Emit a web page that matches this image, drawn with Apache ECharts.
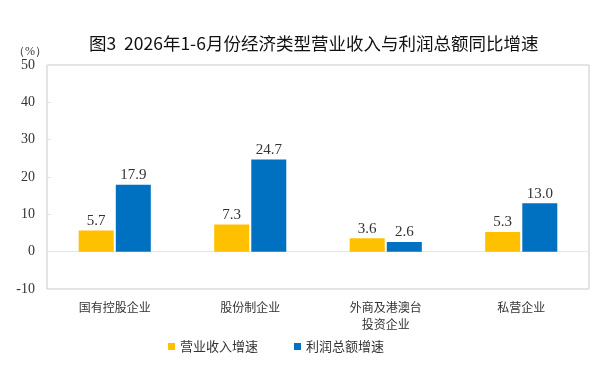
<!DOCTYPE html>
<html>
<head>
<meta charset="utf-8">
<script src="https://cdn.jsdelivr.net/npm/echarts@6/dist/echarts.min.js"></script>
<style>
  html, body { margin: 0; padding: 0; background: #fff; }
  #chart { width: 602px; height: 372px; }
</style>
</head>
<body>
<div id="chart"></div>
<script>
// categories and values
const categories = ['国有控股企业', '股份制企业', '外商及港澳台\n投资企业', '私营企业']
const revenueGrowth = [5.7, 7.3, 3.6, 5.3]
const profitGrowth = [17.9, 24.7, 2.6, 13.0]
const seriesNames = ['营业收入增速', '利润总额增速']

const serif = '"Liberation Serif", "DejaVu Serif", serif'
const cjk = '"Noto Sans CJK SC", sans-serif'

const chart = echarts.init(document.getElementById('chart'))

const barLabel = {
  show: true,
  position: 'top',
  distance: 2,
  fontFamily: serif,
  fontSize: 15,
  color: '#333',
  formatter: (p) => p.value.toFixed(1)
}

const option = {
  animation: false,
  title: {
    text: '图3  2026年1-6月份经济类型营业收入与利润总额同比增速',
    left: 84,
    top: 30,
    textStyle: {
      fontFamily: cjk,
      fontSize: 17.5,
      fontWeight: 'normal',
      color: '#111'
    }
  },
  legend: {
    bottom: 14,
    left: 163,
    icon: 'rect',
    itemWidth: 7,
    itemHeight: 7,
    itemGap: 36,
    textStyle: { fontFamily: cjk, fontSize: 13, color: '#333' },
    data: seriesNames
  },
  grid: {
    left: 47,
    right: 13,
    top: 65,
    bottom: 83,
    show: true,
    borderColor: '#c8c8c8',
    borderWidth: 1
  },
  xAxis: {
    type: 'category',
    data: categories,
    axisLine: { show: false },
    axisTick: { show: false },
    axisLabel: {
      margin: 10,
      fontFamily: cjk,
      fontSize: 12,
      lineHeight: 17,
      color: '#333'
    }
  },
  yAxis: {
    type: 'value',
    min: -10,
    max: 50,
    interval: 10,
    name: '（%）',
    nameLocation: 'end',
    nameGap: 4,
    nameTextStyle: {
      fontFamily: serif,
      fontSize: 12,
      color: '#333',
      align: 'right'
    },
    axisLine: { show: false },
    axisTick: {
      show: true,
      inside: true,
      length: 4,
      lineStyle: { color: '#e3e3e3' }
    },
    axisLabel: {
      margin: 12,
      fontFamily: serif,
      fontSize: 14,
      color: '#333'
    },
    splitLine: {
      show: true,
      lineStyle: {
        // only the zero line is drawn
        color: ['rgba(0,0,0,0)', '#e6e6e6', 'rgba(0,0,0,0)', 'rgba(0,0,0,0)',
          'rgba(0,0,0,0)', 'rgba(0,0,0,0)', 'rgba(0,0,0,0)'],
        width: 1
      }
    }
  },
  series: [
    {
      name: seriesNames[0],
      type: 'bar',
      data: revenueGrowth,
      barWidth: 35,
      barGap: '6%',
      itemStyle: { color: '#FFC000' },
      label: barLabel
    },
    {
      name: seriesNames[1],
      type: 'bar',
      data: profitGrowth,
      barWidth: 35,
      itemStyle: { color: '#0070C0' },
      label: barLabel
    }
  ]
}

chart.setOption(option)
</script>
</body>
</html>
